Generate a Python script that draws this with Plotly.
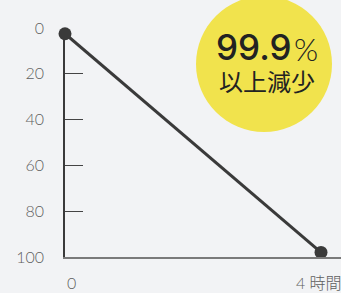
import plotly.graph_objects as go

# Data
hours = [0, 4]
remaining = [2.5, 98]
y_tick_vals = [0, 20, 40, 60, 80, 100]
y_minor_ticks = [20, 40, 60, 80]
x_tick_vals = [0, 4]
x_tick_text = ["0", "4 時間"]
badge_number = "99.9"
badge_unit = "%"
badge_caption = "以上減少"

W, H = 341, 293
BG = "#F2F3F5"
LINE = "#3a3a3a"
TXT = "#5f5f5f"
FONT = "Lato, 'Noto Sans CJK JP', sans-serif"

# plot area in pixels
px_left, px_right = 65, 341
px_top, px_bottom = 28, 257
x_per_px = 4 / (321 - 65)

fig = go.Figure()
# invisible companion trace so the tick-only overlay axis is drawn
fig.add_trace(go.Scatter(
    x=hours, y=remaining, yaxis="y2", mode="lines",
    line=dict(color="rgba(0,0,0,0)", width=0),
    hoverinfo="skip", showlegend=False,
))
fig.add_trace(go.Scatter(
    x=hours, y=remaining, mode="lines+markers",
    line=dict(color=LINE, width=3),
    marker=dict(color=LINE, size=13),
    cliponaxis=False, hoverinfo="skip", showlegend=False,
))

fig.update_layout(
    template="none",
    width=W, height=H,
    margin=dict(l=0, r=0, t=0, b=0, pad=0),
    paper_bgcolor=BG, plot_bgcolor=BG,
    xaxis=dict(
        domain=[px_left / W, 1], automargin=False,
        range=[0, (px_right - px_left) * x_per_px],
        showgrid=False, zeroline=False,
        showline=True, linecolor="#7a7a7a", linewidth=2,
        showticklabels=False, ticks="",
    ),
    yaxis=dict(
        domain=[1 - px_bottom / H, 1 - px_top / H], automargin=False,
        range=[100, 0],
        showgrid=False, zeroline=False,
        showline=True, linecolor="#3a3a3a", linewidth=1.5,
        tickvals=y_tick_vals, ticks="",
        ticklabelstandoff=16,
        tickfont=dict(family=FONT, size=16, color=TXT, weight=300),
    ),
    yaxis2=dict(
        overlaying="y", side="left", automargin=False,
        range=[100, 0],
        showgrid=False, zeroline=False, showline=False,
        tickvals=y_minor_ticks, ticks="inside", ticklen=18,
        tickcolor="#444", tickwidth=1.2, showticklabels=False,
    ),
    showlegend=False,
)

# x tick labels
fig.add_annotation(x=x_tick_vals[0], y=1 - 282 / H, xref="x", yref="paper",
                   text=x_tick_text[0], showarrow=False,
                   xanchor="left", yanchor="middle",
                   font=dict(family=FONT, size=16, color=TXT, weight=300))
fig.add_annotation(x=x_tick_vals[1], y=1 - 282 / H, xref="x", yref="paper",
                   text=x_tick_text[1], showarrow=False,
                   xanchor="center", yanchor="middle", xshift=-2,
                   font=dict(family=FONT, size=16, color=TXT, weight=300))

# badge circle
cx, cy, r = 264, 64, 68
fig.add_shape(type="circle", xref="paper", yref="paper",
              x0=(cx - r) / W, x1=(cx + r) / W,
              y0=1 - (cy + r) / H, y1=1 - (cy - r) / H,
              fillcolor="#F1E34D", line=dict(width=0), layer="above")

fig.add_annotation(x=254 / W, y=1 - 47 / H, xref="paper", yref="paper",
                   text=badge_number, showarrow=False,
                   xanchor="center", yanchor="middle",
                   font=dict(family="Inter, Roboto, sans-serif", size=35, color="#222", weight=500))
fig.add_annotation(x=306 / W, y=1 - 49 / H, xref="paper", yref="paper",
                   text=badge_unit, showarrow=False,
                   xanchor="center", yanchor="middle",
                   font=dict(family="Lato, sans-serif", size=31, color="#222", weight=300))
fig.add_annotation(x=266.5 / W, y=1 - 80 / H, xref="paper", yref="paper",
                   text=badge_caption, showarrow=False,
                   xanchor="center", yanchor="middle",
                   font=dict(family="'Noto Sans CJK JP', sans-serif", size=24, color="#222"))

fig.write_html("out.html", config={"displayModeBar": False},
               post_script="document.body.style.margin='0';document.body.style.background='%s';" % BG)
